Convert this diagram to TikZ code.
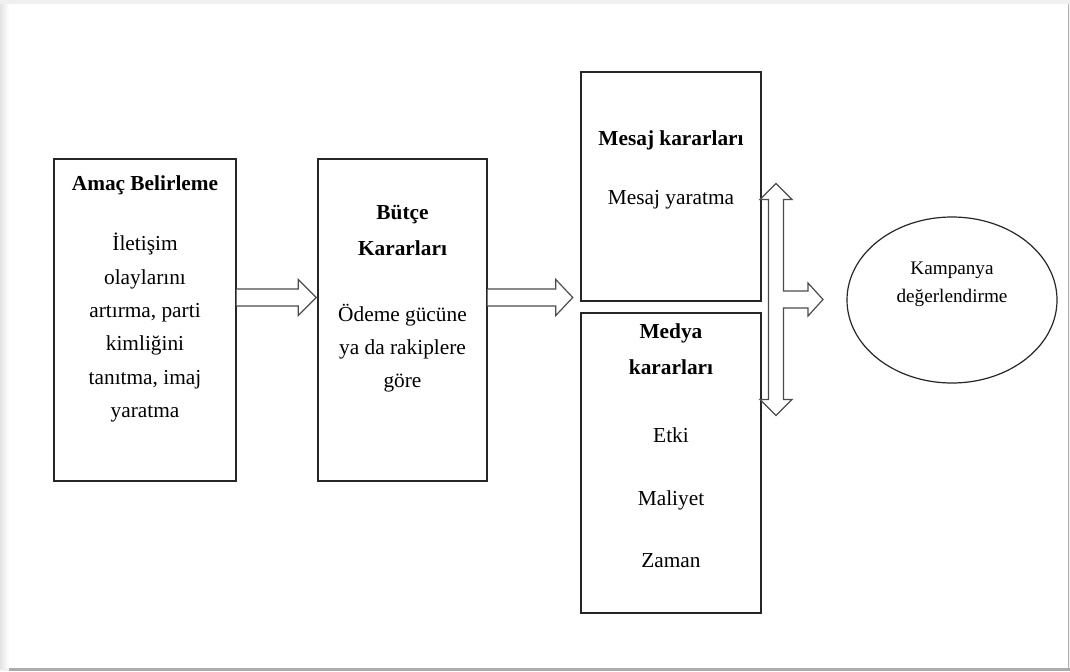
\documentclass[tikz,border=0pt]{standalone}
\usepackage{fontspec}
\setmainfont{Liberation Serif}
\usetikzlibrary{shapes.geometric, calc, positioning, fit}
\tikzstyle{box} = [rectangle, draw=black!85, line width=1.1pt, inner sep=0pt]
\tikzstyle{oval} = [ellipse, draw=black!85, line width=0.9pt, minimum width=157.5pt, minimum height=124.5pt, inner sep=0pt]
\tikzstyle{boxtext} = [align=center, inner sep=0pt, font=\fontsize{16}{25}\selectfont]
\tikzstyle{fatarrow} = [draw=black!70, line width=0.9pt, line join=miter, fill=white]

\begin{document}
\begin{tikzpicture}[x=0.75pt, y=-0.75pt]
\useasboundingbox (0,0) rectangle (1070,671);

% Frame
\fill[gray!12] (0,0) rectangle (1070,671);
\shade[left color=gray!22, right color=white] (0,4) rectangle (9,668);
\fill[white] (9,4) rectangle (1068,668);
\fill[gray!65] (9,668) rectangle (1070,671);
\draw[gray!60, line width=0.75pt] (1068.5,4) -- (1068.5,668);

% Nodes
\node (amac) [box, fit={(54,159) (236,481)}] {};
\node (butce) [box, fit={(318,159) (487,481)}] {};
\node (mesaj) [box, fit={(581,72) (761,301)}] {};
\node (medya) [box, fit={(581,313) (761,613)}] {};
\node (kampanya) [oval] at (952,300) {};

\node (amacText) [boxtext, below=13pt of amac.north] {\textbf{Amaç Belirleme}\\[20pt]
  İletişim\\ olaylarını\\ artırma, parti\\ kimliğini\\ tanıtma, imaj\\ yaratma};
\node (butceText) [boxtext, below=34.8pt of butce.north] {\textbf{Bütçe}\\[2pt] \textbf{Kararları}\\[24.5pt]
  Ödeme gücüne\\ ya da rakiplere\\ göre};
\node (mesajText) [boxtext, below=44.5pt of mesaj.north] {\textbf{Mesaj kararları}\\[19pt] Mesaj yaratma};
\node (medyaText) [boxtext, below=8.5pt of medya.north] {\textbf{Medya}\\[2pt] \textbf{kararları}\\[26pt]
  Etki\\[22pt] Maliyet\\[21.5pt] Zaman};
\node (kampanyaText) [align=center, inner sep=0pt, font=\fontsize{14.4}{21}\selectfont] at (952,284) {Kampanya\\ değerlendirme};

% Arrows
\coordinate (tip1) at ($(butce.west |- 0,297.5)+(-1,0)$);
\coordinate (tip2) at ($(mesaj.west |- 0,297.5)+(-7.5,0)$);
\coordinate (hub) at (776,299.5);

\draw [fatarrow] ($(amac.east |- tip1)+(0,-8.5)$) -- ($(tip1)+(-18,-8.5)$) -- ($(tip1)+(-18,-18)$) -- (tip1)
  -- ($(tip1)+(-18,18)$) -- ($(tip1)+(-18,8.5)$) -- ($(amac.east |- tip1)+(0,8.5)$);
\draw [fatarrow] ($(butce.east |- tip2)+(0,-8.5)$) -- ($(tip2)+(-17,-8.5)$) -- ($(tip2)+(-17,-18)$) -- (tip2)
  -- ($(tip2)+(-17,18)$) -- ($(tip2)+(-17,8.5)$) -- ($(butce.east |- tip2)+(0,8.5)$);

% Double arrow towards the campaign evaluation
\draw [fatarrow] ($(hub)+(-7.5,-100)$) -- ($(hub)+(-16,-100)$) -- ($(hub)+(0,-116)$) -- ($(hub)+(16,-100)$)
  -- ($(hub)+(7.5,-100)$) -- ($(hub)+(7.5,-8.5)$) -- ($(hub)+(32,-8.5)$) -- ($(hub)+(32,-16.5)$)
  -- ($(hub)+(47,0)$) -- ($(hub)+(32,16.5)$) -- ($(hub)+(32,8.5)$) -- ($(hub)+(7.5,8.5)$)
  -- ($(hub)+(7.5,100)$) -- ($(hub)+(16,100)$) -- ($(hub)+(0,116)$) -- ($(hub)+(-16,100)$)
  -- ($(hub)+(-7.5,100)$) -- cycle;

\end{tikzpicture}
\end{document}
